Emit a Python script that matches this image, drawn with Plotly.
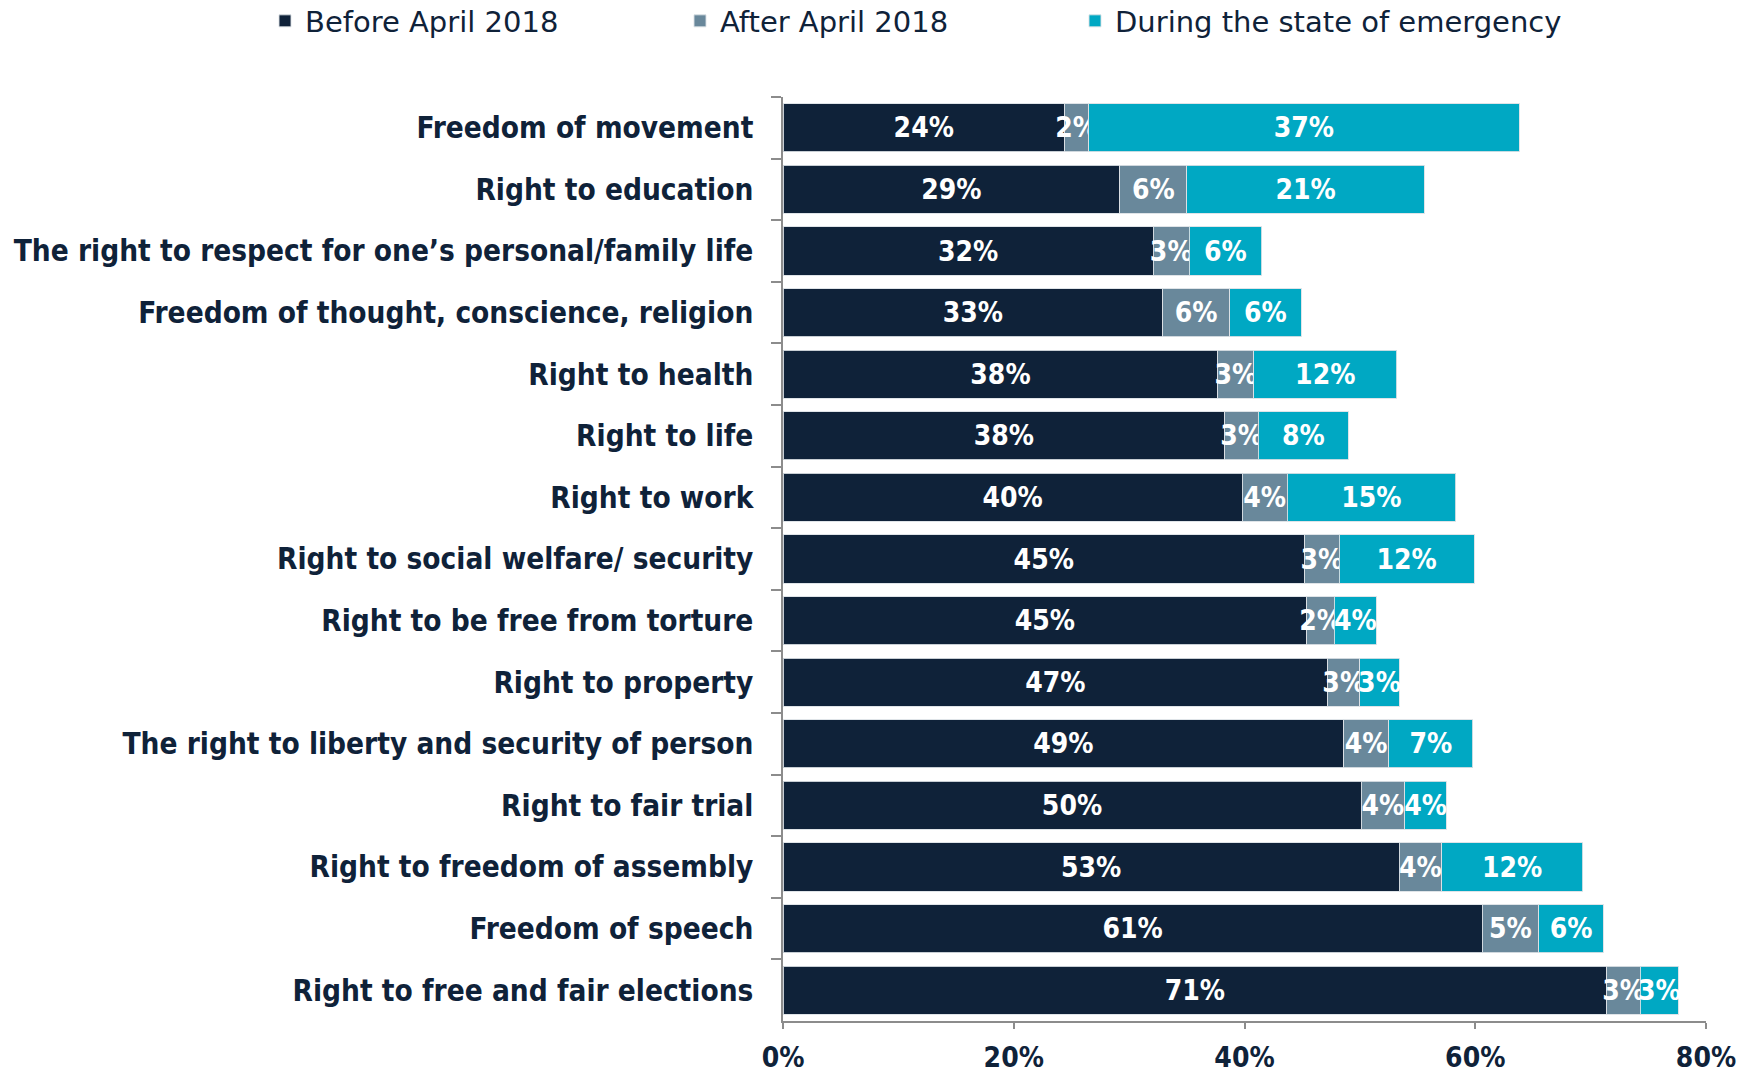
import plotly.graph_objects as go

categories = [
    "Freedom of movement",
    "Right to education",
    "The right to respect for one’s personal/family life",
    "Freedom of thought, conscience, religion",
    "Right to health",
    "Right to life",
    "Right to work",
    "Right to social welfare/ security",
    "Right to be free from torture",
    "Right to property",
    "The right to liberty and security of person",
    "Right to fair trial",
    "Right to freedom of assembly",
    "Freedom of speech",
    "Right to free and fair elections",
]
before_april_2018 = [24.4, 29.2, 32.1, 32.9, 37.7, 38.3, 39.8, 45.2, 45.4, 47.2, 48.6, 50.1, 53.4, 60.6, 71.4]
after_april_2018 = [2.1, 5.8, 3.1, 5.8, 3.1, 2.9, 3.9, 3.0, 2.4, 2.8, 3.9, 3.8, 3.7, 4.9, 2.9]
during_emergency = [37.3, 20.6, 6.3, 6.2, 12.4, 7.8, 14.6, 11.7, 3.6, 3.4, 7.3, 3.6, 12.2, 5.6, 3.3]
series_names = ["Before April 2018", "After April 2018", "During the state of emergency"]
x_ticks = [0, 20, 40, 60, 80]

colors = ["#0f2239", "#69889b", "#00a8c3"]
navy = "#0f2239"
FONT = "DejaVu Sans Condensed"

fig = go.Figure()
legends = ["legend", "legend2", "legend3"]
for name, vals, col, lg in zip(series_names, [before_april_2018, after_april_2018, during_emergency], colors, legends):
    fig.add_trace(go.Bar(
        y=categories, x=vals, name=name, orientation="h",
        marker=dict(color=col, line=dict(color="rgba(220,225,230,0.9)", width=1)),
        text=vals, texttemplate="%{x:.0f}%", textposition="inside",
        insidetextanchor="middle", textangle=0,
        textfont=dict(family=FONT, size=28, color="white", weight="bold"),
        legend=lg, hoverinfo="skip", showlegend=True,
    ))

leg_common = dict(orientation="h", xref="container", yref="container", yanchor="middle", y=1 - 21 / 1074,
                  font=dict(family="DejaVu Sans", size=29, color=navy), bgcolor="rgba(0,0,0,0)",
                  itemwidth=30, traceorder="normal")
fig.update_layout(
    barmode="stack",
    bargap=0.22,
    showlegend=True,
    width=1752, height=1074,
    margin=dict(l=783, r=46, t=97, b=53, autoexpand=False),
    plot_bgcolor="white", paper_bgcolor="white",
    uniformtext=dict(mode="show", minsize=28),
    legend=dict(x=(283 - 18) / 1752, **leg_common),
    legend2=dict(x=(698 - 18) / 1752, **leg_common),
    legend3=dict(x=(1093 - 18) / 1752, **leg_common),
    xaxis=dict(range=[0, 80], tickvals=x_ticks, ticktext=[f"{v}%" for v in x_ticks],
               showgrid=False, zeroline=False, showline=True, linecolor="#8c8c8c", linewidth=1.5,
               ticks="outside", ticklen=6, tickcolor="#8c8c8c", tickwidth=1.5,
               ticklabelstandoff=5, automargin=False,
               tickfont=dict(family=FONT, size=28, color=navy, weight="bold")),
    yaxis=dict(autorange="reversed", showgrid=False, showline=True, linecolor="#8c8c8c", linewidth=1.5,
               ticks="outside", tickson="boundaries", ticklen=10, tickcolor="#8c8c8c", tickwidth=1.5,
               ticklabelstandoff=22, automargin=False,
               tickfont=dict(family=FONT, size=29.5, color=navy, weight="bold")),
)
fig.write_html("out.html", config={"displayModeBar": False},
               post_script="document.body.style.margin='0';document.body.style.overflow='hidden';")
